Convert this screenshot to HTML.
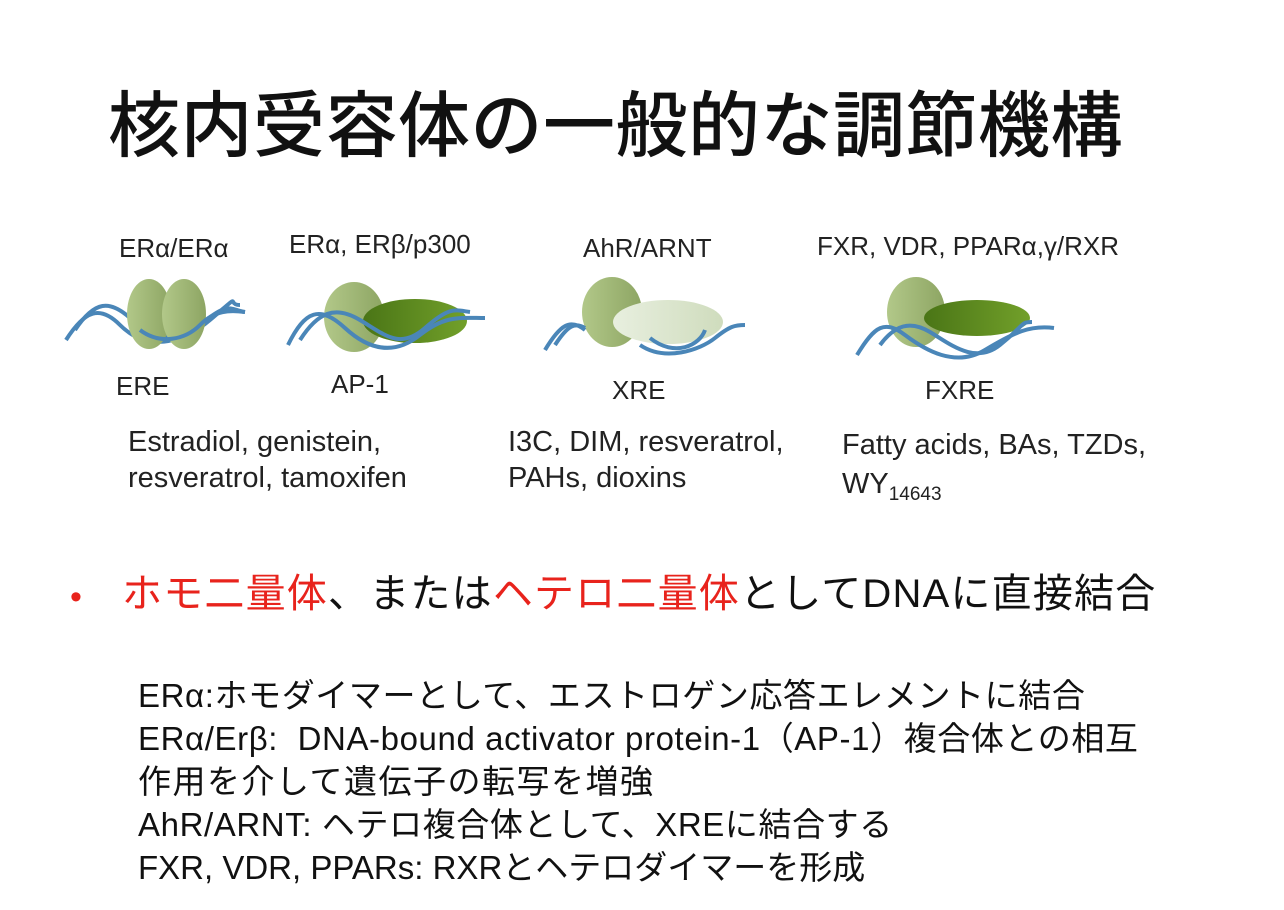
<!DOCTYPE html>
<html><head><meta charset="utf-8"><style>
body{margin:0;width:1284px;height:910px;background:#fff;position:relative;overflow:hidden;font-family:"Liberation Sans","Noto Sans CJK JP",sans-serif;color:#111}
.a{position:absolute;white-space:nowrap;line-height:1}
.t{font-size:72px;font-family:"Noto Sans CJK JP",sans-serif;font-weight:500;top:84px;left:108px;letter-spacing:0.5px}
.l{font-size:26px;font-family:"Liberation Sans",sans-serif;color:#222}
.s{font-size:29px;font-family:"Liberation Sans",sans-serif;color:#222}
.b{font-size:40px;font-family:"Liberation Sans","Noto Sans CJK JP",sans-serif;top:574px;left:122px;letter-spacing:1.2px}
.r{color:#e8231c}
.j{font-size:33px;font-family:"Liberation Sans","Noto Sans CJK JP",sans-serif;left:138px;letter-spacing:0.6px}
.k{letter-spacing:1.5px}
</style></head><body>
<div class="a t">核内受容体の一般的な調節機構</div>

<svg class="a" style="left:0;top:0" width="1284" height="910">
<defs>
<linearGradient id="lg" x1="0" x2="1"><stop offset="0" stop-color="#b2c889"/><stop offset="1" stop-color="#8da563"/></linearGradient>
<linearGradient id="dg" x1="0" x2="1"><stop offset="0" stop-color="#4a7516"/><stop offset="1" stop-color="#72a02a"/></linearGradient>
<linearGradient id="pg" x1="0" x2="1"><stop offset="0" stop-color="#e8efdf"/><stop offset="1" stop-color="#cfdcbd"/></linearGradient>
</defs>
<g fill="none" stroke="#4a86b8" stroke-width="4">
<path d="M66,340 C85,310 100,305 120,325 S170,350 200,325 S230,310 245,312"/>
<path d="M75,330 C95,300 110,300 130,318 S175,350 210,320 S225,305 240,305"/>
</g>
<ellipse cx="149" cy="314" rx="22" ry="35" fill="url(#lg)"/>
<ellipse cx="184" cy="314" rx="22" ry="35" fill="url(#lg)"/>
<g fill="none" stroke="#4a86b8" stroke-width="4">
<path d="M140,330 C160,345 185,340 200,325 S230,310 245,312"/>
</g>
<ellipse cx="354" cy="317" rx="30" ry="35" fill="url(#lg)"/>
<ellipse cx="415" cy="321" rx="52" ry="22" fill="url(#dg)"/>
<g fill="none" stroke="#4a86b8" stroke-width="4">
<path d="M288,345 C305,310 320,305 345,328 S395,355 420,335 S460,318 485,318"/>
<path d="M300,340 C318,312 335,305 360,320 S400,350 425,328 S455,310 470,312"/>
</g>
<ellipse cx="612" cy="312" rx="30" ry="35" fill="url(#lg)"/>
<ellipse cx="668" cy="322" rx="55" ry="22" fill="url(#pg)"/>
<g fill="none" stroke="#4a86b8" stroke-width="4">
<path d="M545,350 C560,325 570,318 585,330"/>
<path d="M555,345 C568,325 575,322 585,328"/>
<path d="M640,345 C665,362 700,350 715,338 S735,325 745,325"/>
<path d="M650,338 C675,358 700,345 705,330"/>
</g>
<ellipse cx="916" cy="312" rx="29" ry="35" fill="url(#lg)"/>
<ellipse cx="977" cy="318" rx="53" ry="18" fill="url(#dg)"/>
<g fill="none" stroke="#4a86b8" stroke-width="4">
<path d="M857,355 C875,325 885,320 905,335 S955,368 985,350 S1030,325 1054,328"/>
<path d="M880,345 C895,325 910,320 930,332 S975,365 1000,345 S1020,322 1032,322"/>
</g>
</svg>

<div class="a l" style="left:119px;top:235px">ERα/ERα</div>
<div class="a l" style="left:289px;top:231px">ERα, ERβ/p300</div>
<div class="a l" style="left:583px;top:235px">AhR/ARNT</div>
<div class="a l" style="left:817px;top:233px">FXR, VDR, PPARα,γ/RXR</div>
<div class="a l" style="left:116px;top:373px">ERE</div>
<div class="a l" style="left:331px;top:371px">AP-1</div>
<div class="a l" style="left:612px;top:377px">XRE</div>
<div class="a l" style="left:925px;top:377px">FXRE</div>
<div class="a s" style="left:128px;top:424px;line-height:36px">Estradiol, genistein,<br>resveratrol, tamoxifen</div>
<div class="a s" style="left:508px;top:424px;line-height:36px">I3C, DIM, resveratrol,<br>PAHs, dioxins</div>
<div class="a s" style="left:842px;top:426px;line-height:39px">Fatty acids, BAs, TZDs,<br>WY<sub style="font-size:19px">14643</sub></div>

<div class="a" style="left:70px;top:580px;font-size:34px;color:#e8231c">•</div>
<div class="a b"><span class="r">ホモ二量体</span>、または<span class="r">ヘテロ二量体</span>としてDNAに直接結合</div>

<div class="a j" style="top:679px">ERα:ホモダイマーとして、エストロゲン応答エレメントに結合</div>
<div class="a j" style="top:722px">ERα/Erβ:&nbsp;&nbsp;DNA-bound activator protein-1（AP-1）複合体との相互</div>
<div class="a j k" style="top:765px">作用を介して遺伝子の転写を増強</div>
<div class="a j" style="top:808px">AhR/ARNT: ヘテロ複合体として、XREに結合する</div>
<div class="a j" style="top:851px;letter-spacing:0">FXR, VDR, PPARs: RXRとヘテロダイマーを形成</div>
</body></html>
